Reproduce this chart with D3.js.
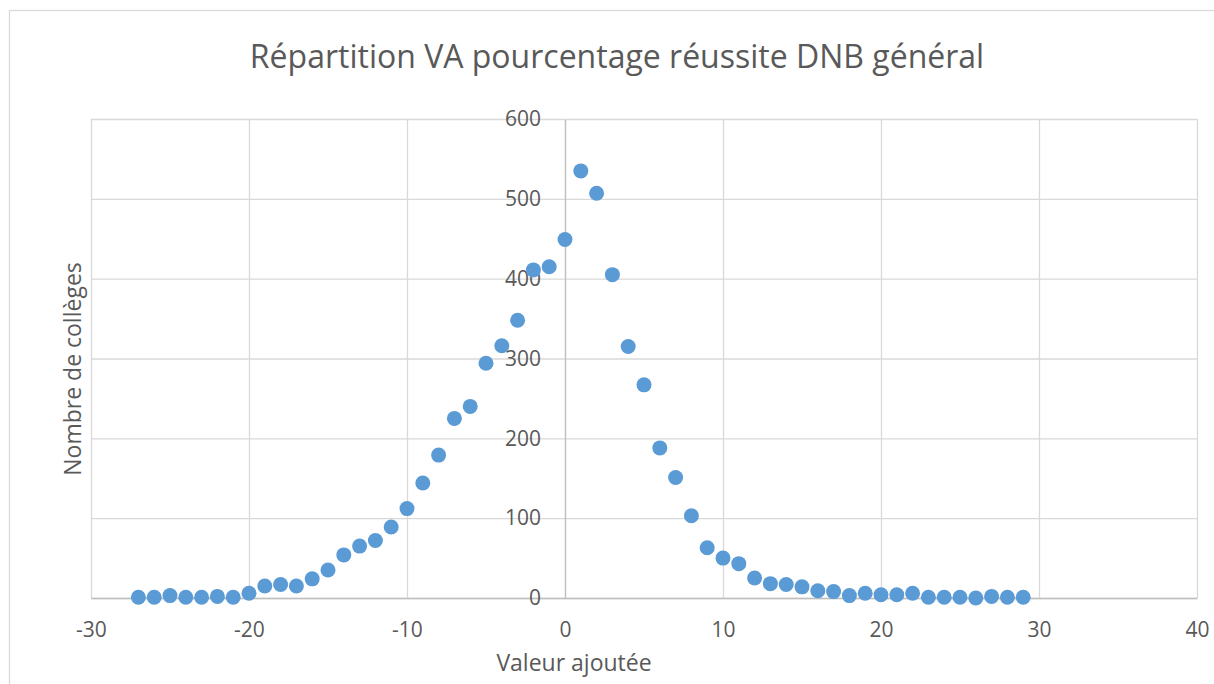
<!DOCTYPE html>
<html>
<head>
<meta charset="utf-8">
<script src="https://cdn.jsdelivr.net/npm/d3@7"></script>
<style>
  body { margin: 0; background: #fff; }
  text { font-family: 'Open Sans', 'Noto Sans', sans-serif; fill: #595959; }
</style>
</head>
<body>
<div class="scatter__container"></div>
<script>
//data
const valeurs = [-27, -26, -25, -24, -23, -22, -21, -20, -19, -18, -17, -16, -15, -14, -13, -12, -11, -10,
    -9, -8, -7, -6, -5, -4, -3, -2, -1, 0, 1, 2, 3, 4, 5, 6, 7, 8, 9, 10, 11, 12, 13, 14,
    15, 16, 17, 18, 19, 20, 21, 22, 23, 24, 25, 26, 27, 28, 29];
const colleges = [1, 1, 3, 1, 1, 2, 1, 6, 15, 17, 15, 24, 35, 54, 65, 72, 89, 112,
    144, 179, 225, 240, 294, 316, 348, 411, 415, 449, 535, 507, 405, 315, 267, 188, 151, 103, 63, 50, 43, 25, 18, 17,
    14, 9, 8, 3, 6, 4, 4, 6, 1, 1, 1, 0, 2, 1, 1];
const xTicks = [-30, -20, -10, 0, 10, 20, 30, 40];
const yTicks = [0, 100, 200, 300, 400, 500, 600];

const points = valeurs.map((v, i) => ({ x: v, y: colleges[i] }));

//chart
const width = 1214;
const height = 684;
const margin = { top: 119, right: 17, bottom: 86, left: 91 };
const widthChart = width - margin.left - margin.right;
const heightChart = height - margin.top - margin.bottom;

const xScale = d3.scaleLinear().domain([-30, 40]).range([0, widthChart]);
const yScale = d3.scaleLinear().domain([0, 600]).range([heightChart, 0]);

// plain hyphen like the original, not the unicode minus
const fmt = d => String(d);

const svgRoot = d3.select('.scatter__container')
    .append('svg')
    .attr('width', width)
    .attr('height', height);

// chart border
svgRoot.append('rect')
    .attr('x', 9.5)
    .attr('y', 10.5)
    .attr('width', 1220)
    .attr('height', 700)
    .style('fill', 'none')
    .style('stroke', '#d9d9d9')
    .style('stroke-width', 1.3);

// title
svgRoot.append('text')
    .attr('x', 617)
    .attr('y', 55)
    .attr('text-anchor', 'middle')
    .attr('dominant-baseline', 'central')
    .style('font-size', '32px')
    .text('Répartition VA pourcentage réussite DNB général');

const svg = svgRoot.append('g')
    .attr('transform', `translate(${margin.left}, ${margin.top})`);

// grid
svg.append('g')
    .attr('class', 'grid-x')
    .call(d3.axisBottom(xScale).tickValues(xTicks).tickSize(heightChart).tickFormat(''))
    .call(g => g.select('.domain').remove())
    .selectAll('line')
    .style('stroke', '#d9d9d9')
    .style('stroke-width', 1.3);

svg.append('g')
    .attr('class', 'grid-y')
    .call(d3.axisRight(yScale).tickValues(yTicks).tickSize(widthChart).tickFormat(''))
    .call(g => g.select('.domain').remove())
    .selectAll('line')
    .style('stroke', '#d9d9d9')
    .style('stroke-width', 1.3);

// x axis at y = 0
const xAxis = d3.axisBottom(xScale).tickValues(xTicks).tickSize(0).tickFormat(fmt);
const xAxisDraw = svg.append('g')
    .attr('class', 'x-axis')
    .attr('transform', `translate(0,${yScale(0)})`)
    .call(xAxis);
xAxisDraw.select('.domain').style('stroke', '#bfbfbf').style('stroke-width', 1.3);
xAxisDraw.selectAll('text')
    .style('font-size', '21px')
    .style('fill', '#595959')
    .attr('dy', '0.35em')
    .attr('y', 32);

// y axis at x = 0
const yAxis = d3.axisLeft(yScale).tickValues(yTicks).tickSize(0).tickPadding(24).tickFormat(fmt);
const yAxisDraw = svg.append('g')
    .attr('class', 'y-axis')
    .attr('transform', `translate(${xScale(0)},0)`)
    .call(yAxis);
yAxisDraw.select('.domain').style('stroke', '#bfbfbf').style('stroke-width', 1.3);
yAxisDraw.selectAll('text')
    .style('font-size', '21px')
    .style('fill', '#595959');

// points
svg.append('g')
    .attr('class', 'points')
    .selectAll('circle')
    .data(points)
    .enter()
    .append('circle')
    .attr('cx', d => xScale(d.x))
    .attr('cy', d => yScale(d.y))
    .attr('r', 7.5)
    .style('fill', '#5b9bd5');

// axis titles
svgRoot.append('text')
    .attr('x', 574)
    .attr('y', 662)
    .attr('text-anchor', 'middle')
    .attr('dominant-baseline', 'central')
    .style('font-size', '23px')
    .text('Valeur ajoutée');

svgRoot.append('text')
    .attr('transform', 'translate(72,369) rotate(-90)')
    .attr('text-anchor', 'middle')
    .attr('dominant-baseline', 'central')
    .style('font-size', '23px')
    .text('Nombre de collèges');
</script>
</body>
</html>
